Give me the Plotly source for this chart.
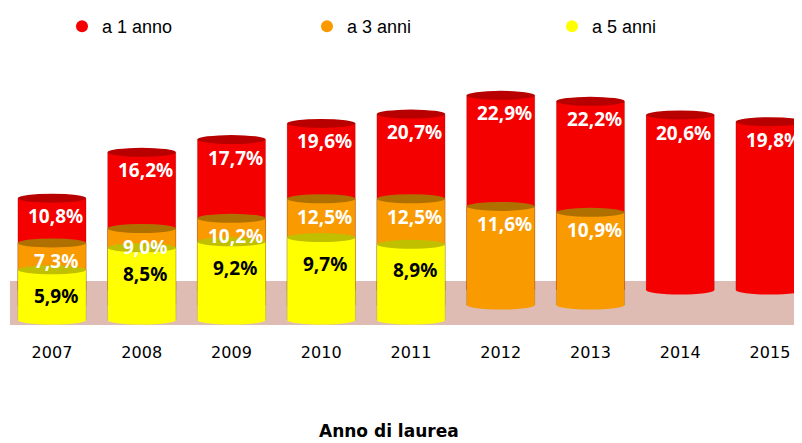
import plotly.graph_objects as go

anni = ["2007", "2008", "2009", "2010", "2011", "2012", "2013", "2014", "2015"]
a1 = [10.8, 16.2, 17.7, 19.6, 20.7, 22.9, 22.2, 20.6, 19.8]
a3 = [7.3, 9.0, 10.2, 12.5, 12.5, 11.6, 10.9, None, None]
a5 = [5.9, 8.5, 9.2, 9.7, 8.9, None, None, None, None]

nomi = ["a 1 anno", "a 3 anni", "a 5 anni"]
colori = ["#f50000", "#f99a00", "#ffff00"]
col_top = ["#b80000", "#b07000", "#c0c000"]
col_testo = ["white", "white", "black"]
spost = [-3, -3, -11]   # label offset below the top of each cylinder

def etichette(vals):
    return ["" if v is None else f"{v:.1f}".replace(".", ",") + "%" for v in vals]

# the page body adds 8px, so the figure is 8px smaller than the window
W, Htot = 794, 435
H = 330            # plot area height in px
k = 8.5            # px per percentage point
# pseudo-3D: each series stands on its own row of the floor -> own y axis,
# same scale, different zero line (px from top of figure)
zeri = [282, 297, 312]
assi = ["y", "y2", "y3"]
serie = [a1, a3, a5]
bw = 0.76

fig = go.Figure()
for i, vals in enumerate(serie):
    fig.add_trace(go.Bar(
        x=anni, y=vals, yaxis=assi[i], name=nomi[i], showlegend=False,
        width=bw,
        marker=dict(color=colori[i], line=dict(color="rgba(0,0,0,0.12)", width=1)),
    ))

# legend entries as circles
for i in range(3):
    fig.add_trace(go.Scatter(
        x=[None], y=[None], mode="markers", name=nomi[i],
        marker=dict(symbol="circle", size=17, color=colori[i]),
    ))

# cylinder caps: dark ellipse on top, rounded bottom where the bar is in front
forme = [dict(type="rect", xref="x", yref="paper", layer="below",
              x0=-0.468, x1=8.4, y0=(H - 317) / H, y1=(H - 273) / H,
              fillcolor="#dfbcb3", line=dict(width=0))]
note = []
e = 4.5 / k
for i, vals in enumerate(serie):
    testi = etichette(vals)
    for j, v in enumerate(vals):
        if v is None:
            continue
        forme.append(dict(type="circle", xref="x", yref=assi[i], layer="above",
                          x0=j - bw / 2, x1=j + bw / 2, y0=v - e, y1=v + e,
                          fillcolor=col_top[i], line=dict(width=0)))
        davanti = [s[j] for s in serie[i + 1:] if s[j] is not None]
        if not davanti:
            forme.append(dict(type="circle", xref="x", yref=assi[i], layer="above",
                              x0=j - bw / 2, x1=j + bw / 2, y0=-e, y1=e,
                              fillcolor=colori[i], line=dict(width=0)))
        note.append(dict(text=testi[j], x=j + 0.04, y=v, xref="x", yref=assi[i],
                         yanchor="top", yshift=spost[i], showarrow=False,
                         font=dict(family="Noto Sans", size=19, color=col_testo[i],
                                   weight="bold")))

note.append(dict(text="<b>Anno di laurea</b>", xref="paper", yref="paper",
                 x=381 / W, y=(H - 423) / H, xanchor="center", yanchor="middle",
                 showarrow=False, font=dict(family="DejaVu Sans", size=17, color="black")))

yax = dict(showticklabels=False, showgrid=False, zeroline=False, showline=False,
           ticks="", fixedrange=True)
fig.update_layout(
    width=W, height=Htot,
    margin=dict(l=0, r=0, t=0, b=Htot - H),
    plot_bgcolor="white", paper_bgcolor="white",
    barmode="overlay",
    xaxis=dict(range=[-0.490, 8.357], showgrid=False, showline=False, ticks="",
               automargin=False, zeroline=False, ticklabelstandoff=3,
               tickfont=dict(family="DejaVu Sans", size=16, color="black")),
    yaxis=dict(range=[-(H - zeri[0]) / k, zeri[0] / k], **yax),
    yaxis2=dict(range=[-(H - zeri[1]) / k, zeri[1] / k], overlaying="y", **yax),
    yaxis3=dict(range=[-(H - zeri[2]) / k, zeri[2] / k], overlaying="y", **yax),
    legend=dict(orientation="h", x=0.068, y=1, xanchor="left", yanchor="top",
                entrywidth=200, font=dict(family="Liberation Sans", size=18, color="black"),
                itemsizing="constant", bgcolor="rgba(0,0,0,0)"),
    shapes=forme,
    annotations=note,
)

fig.write_html("out.html")
